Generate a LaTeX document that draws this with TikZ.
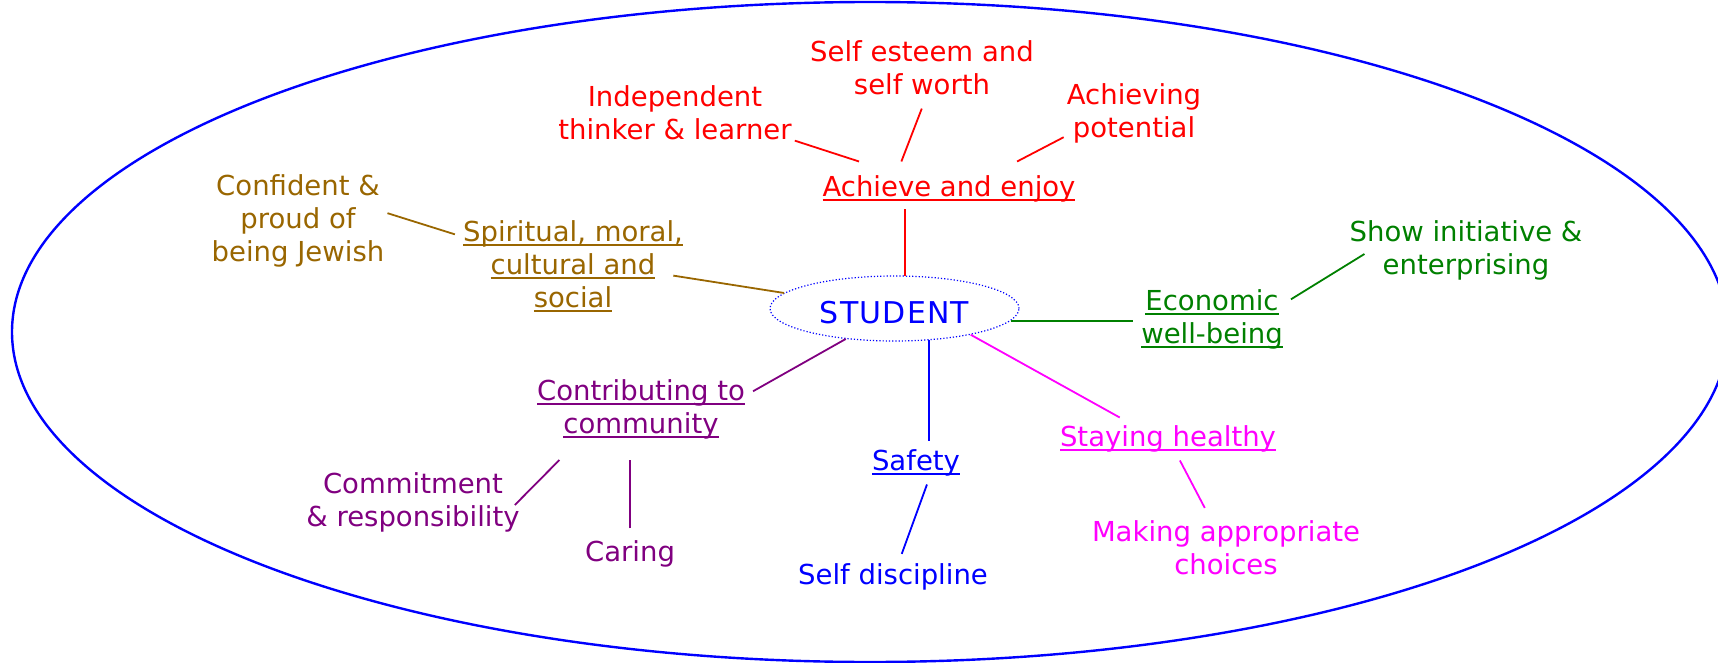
\documentclass[tikz,border=0pt]{standalone}
\usepackage{fontspec}
\setmainfont{DejaVu Sans}
\usepackage{xcolor}
\usepackage{tikz}
\usetikzlibrary{shapes.geometric}

\definecolor{smcsbrown}{RGB}{153,102,0}
\definecolor{econgreen}{RGB}{0,128,0}
\definecolor{commpurple}{RGB}{128,0,128}
\definecolor{healthpink}{RGB}{255,0,255}
\definecolor{safeblue}{RGB}{0,0,255}
\definecolor{enjoyred}{RGB}{255,0,0}

\newsavebox\ulbox
\newcommand{\ulin}[1]{\sbox\ulbox{#1}\rlap{\rule[-4.5pt]{\wd\ulbox}{1.8pt}}\usebox\ulbox}

\begin{document}
\begin{tikzpicture}[x=1pt,y=-1pt,
    txt/.style={align=center,font=\fontsize{27.5}{33}\selectfont,inner sep=3pt},
    head/.style={txt,inner sep=8pt},
    link/.style={line width=1.8pt}]
  \useasboundingbox (0,0) rectangle (1718,663);
  \draw[safeblue,line width=2.4pt] (870,332) ellipse [x radius=858pt,y radius=330pt];

  \node[ellipse,draw=safeblue,line width=1.2pt,dash pattern=on 1.2pt off 2pt,
        minimum width=249pt,minimum height=65pt,inner sep=0pt,text=safeblue,
        text height=30pt,text depth=0pt,
        font=\fontsize{30}{36}\selectfont\addfontfeature{LetterSpace=4}] (student) at (894.5,308.5) {STUDENT};

  % achieve and enjoy
  \node[txt,enjoyred] (esteem) at (922,68) {Self esteem and\\self worth};
  \node[txt,enjoyred] (thinker) at (675,113) {Independent\\thinker \& learner};
  \node[txt,enjoyred] (potential) at (1134,113) {Achieving\\potential};
  \node[head,enjoyred,inner ysep=14pt] (achieve) at (949,189) {\ulin{Achieve and enjoy}};

  % spiritual
  \node[txt,smcsbrown] (proud) at (298,221) {Confident \&\\proud of\\being Jewish};
  \node[head,smcsbrown] (smcs) at (573,266) {\ulin{Spiritual, moral,}\\\ulin{cultural and}\\\ulin{social}};

  % economic
  \node[txt,econgreen] (initiative) at (1466,250) {Show initiative \&\\enterprising};
  \node[head,econgreen] (econ) at (1212,319) {\ulin{Economic}\\\ulin{well-being}};

  % community
  \node[head,commpurple,inner ysep=21pt] (community) at (641,409) {\ulin{Contributing to}\\\ulin{community}};
  \node[txt,commpurple] (commit) at (413,502) {Commitment\\\& responsibility};
  \node[txt,commpurple] (caring) at (630,554) {Caring};

  % safety
  \node[head,safeblue] (safety) at (916,463) {\ulin{Safety}};
  \node[txt,safeblue] (discipline) at (893,577) {Self discipline};

  % healthy
  \node[head,healthpink] (healthy) at (1168,439) {\ulin{Staying healthy}};
  \node[txt,healthpink] (choices) at (1226,548) {Making appropriate\\choices};

  \draw[link,enjoyred] (thinker.-13) -- (achieve.163);
  \draw[link,enjoyred,shorten <=11pt] (esteem.-83) -- (achieve.150);
  \draw[link,enjoyred] (potential.199) -- (achieve.22);
  \draw[link,enjoyred,shorten >=-8pt] (student.72) -- (student.72 |- achieve.south);
  \draw[link,smcsbrown] (proud.5) -- (smcs.165);
  \draw[link,smcsbrown,shorten <=-18pt] (smcs.-6) -- (student.172);
  \draw[link,econgreen] (econ.14) -- ([xshift=18pt,yshift=-4pt]initiative.west);
  \draw[link,econgreen] (student.-6) -- (student.-6 -| econ.west);
  \draw[link,commpurple] (student.212) -- (community.9);
  \draw[link,commpurple] (community.212) -- ([xshift=-8pt,yshift=-3pt]commit.east);
  \draw[link,commpurple,shorten <=9pt] (caring.north) -- (caring.north |- community.south);
  \draw[link,safeblue] (student.-43) -- (student.-43 |- safety.north);
  \draw[link,safeblue,shorten >=7pt] (safety.-63) -- (discipline.69);
  \draw[link,healthpink] (student.-19) -- (healthy.156);
  \draw[link,healthpink,shorten >=11pt] (healthy.-61) -- (choices.118);
\end{tikzpicture}
\end{document}
